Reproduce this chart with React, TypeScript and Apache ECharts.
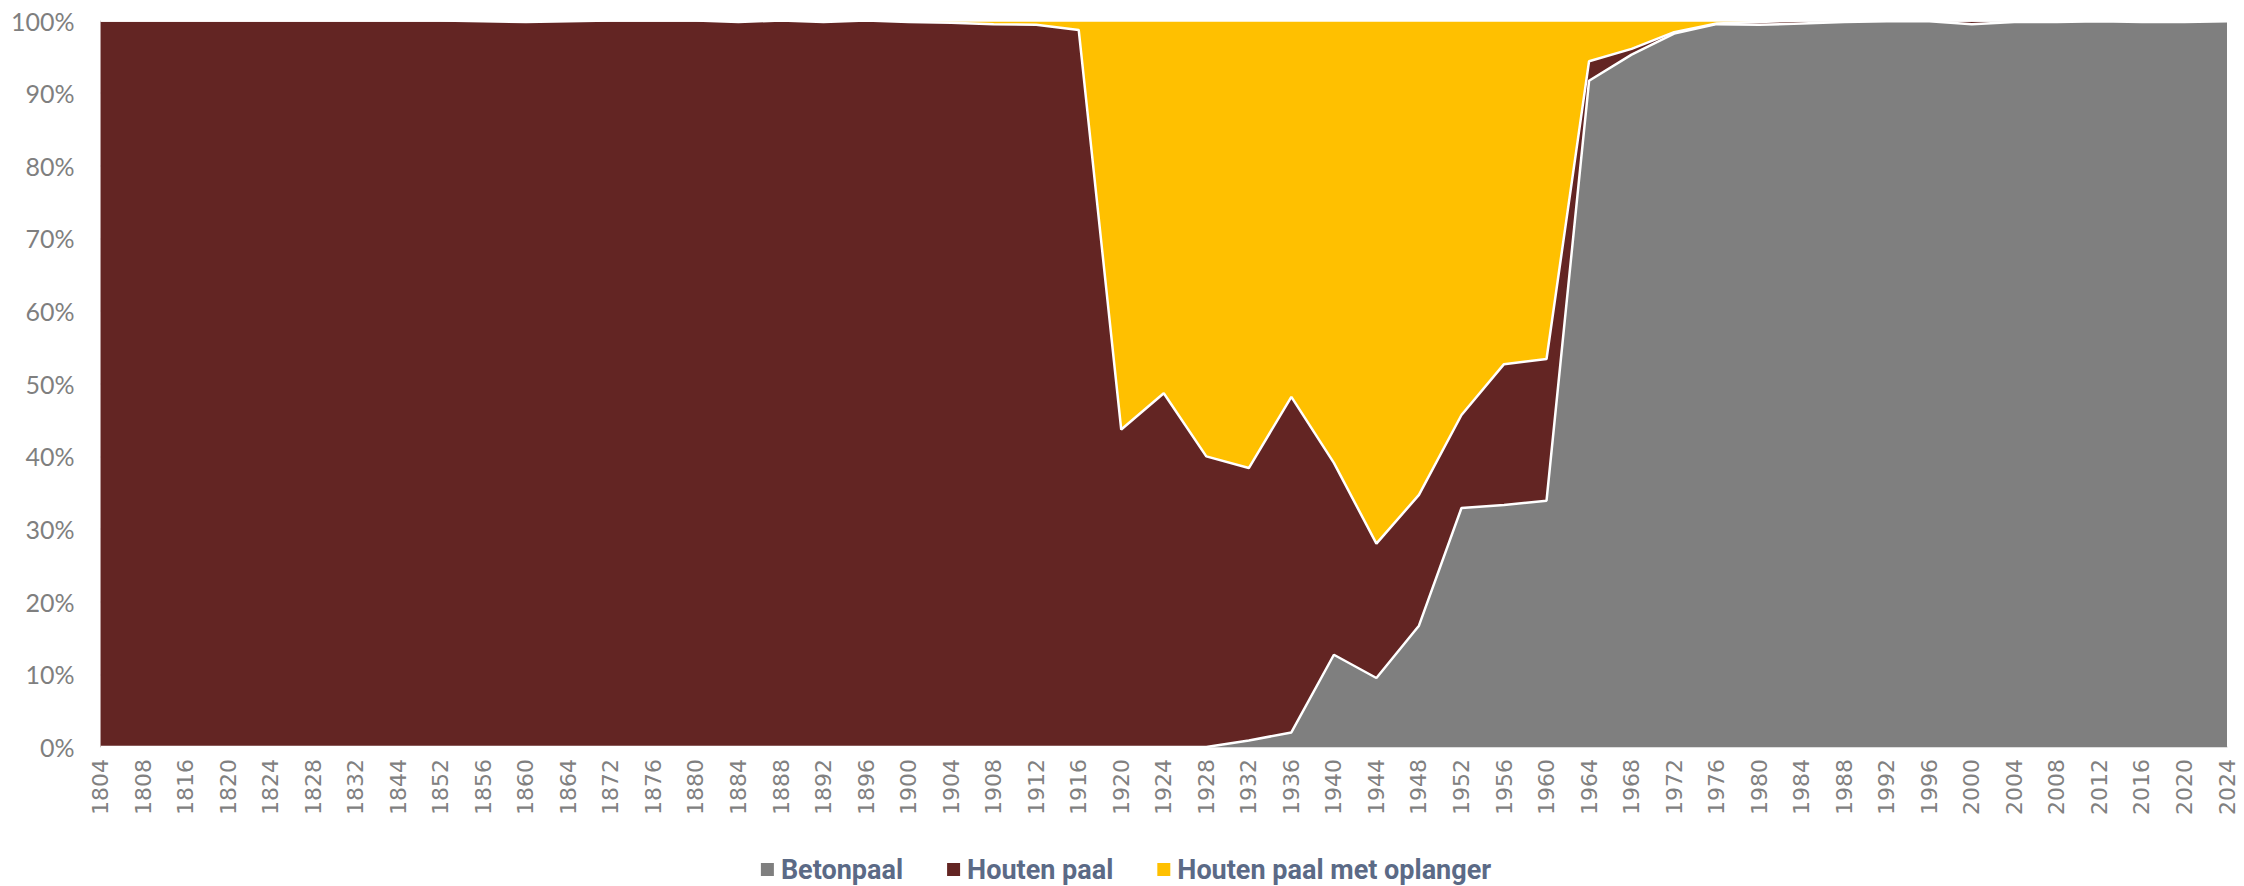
import React, { useEffect, useRef } from "react";
import * as echarts from "echarts";

const years = [
  "1804", "1808", "1816", "1820", "1824", "1828", "1832", "1844", "1852", "1856",
  "1860", "1864", "1872", "1876", "1880", "1884", "1888", "1892", "1896", "1900",
  "1904", "1908", "1912", "1916", "1920", "1924", "1928", "1932", "1936", "1940",
  "1944", "1948", "1952", "1956", "1960", "1964", "1968", "1972", "1976", "1980",
  "1984", "1988", "1992", "1996", "2000", "2004", "2008", "2012", "2016", "2020",
  "2024",
];

const betonpaal = [
  0, 0, 0, 0, 0, 0, 0, 0, 0, 0,
  0, 0, 0, 0, 0, 0, 0, 0, 0, 0,
  0, 0, 0, 0, 0, 0, 0, 0.9, 2.0, 12.7,
  9.5, 16.7, 32.9, 33.3, 33.9, 91.7, 95.3, 98.2, 99.5, 99.4,
  99.6, 99.8, 99.9, 99.9, 99.5, 99.8, 99.8, 99.9, 99.8, 99.8,
  99.9,
];

const houtenPaal = [
  100, 100, 100, 100, 100, 100, 100, 100, 100, 99.9,
  99.8, 99.9, 100, 100, 100, 99.8, 100, 99.8, 100, 99.8,
  99.7, 99.5, 99.4, 98.7, 43.7, 48.7, 40.0, 37.5, 46.2, 26.4,
  18.5, 18.0, 12.8, 19.4, 19.5, 2.7, 0.8, 0.2, 0.1, 0.4,
  0.4, 0.2, 0.1, 0.1, 0.5, 0.2, 0.2, 0.1, 0.2, 0.2,
  0.1,
];

const houtenPaalMetOplanger = [
  0, 0, 0, 0, 0, 0, 0, 0, 0, 0.1,
  0.2, 0.1, 0, 0, 0, 0.2, 0, 0.2, 0, 0.2,
  0.3, 0.5, 0.6, 1.3, 56.3, 51.3, 60.0, 61.6, 51.8, 60.9,
  72.0, 65.3, 54.3, 47.3, 46.6, 5.6, 3.9, 1.6, 0.4, 0.2,
  0, 0, 0, 0, 0, 0, 0, 0, 0, 0,
  0,
];

const seriesNames = ["Betonpaal", "Houten paal", "Houten paal met oplanger"];
const seriesColors = ["#7F7F7F", "#632523", "#FFC000"];

export default function App() {
  const ref = useRef<HTMLDivElement>(null);

  useEffect(() => {
    if (!ref.current) return;
    const chart = echarts.init(ref.current, undefined, { renderer: "svg" });
    const datasets = [betonpaal, houtenPaal, houtenPaalMetOplanger];
    chart.setOption({
      animation: false,
      backgroundColor: "#ffffff",
      grid: { left: 85, right: 17, top: 11, bottom: 139, containLabel: false },
      legend: {
        top: 843,
        left: "center",
        icon: "rect",
        itemWidth: 13,
        itemHeight: 13,
        itemGap: 44,
        textStyle: {
          fontFamily: "Roboto",
          fontWeight: "bold",
          fontSize: 27,
          color: "#5B6A86",
          padding: [0, 0, 0, 2],
        },
        data: seriesNames,
      },
      xAxis: {
        type: "category",
        data: years,
        boundaryGap: false,
        axisLine: { show: true, lineStyle: { color: "#D9D9D9", width: 1.5 } },
        axisTick: { show: false },
        axisLabel: {
          interval: 0,
          rotate: 90,
          margin: 12,
          fontFamily: "DejaVu Sans",
          fontSize: 22,
          color: "#808080",
        },
        splitLine: { show: false },
      },
      yAxis: {
        type: "value",
        min: 0,
        max: 100,
        interval: 10,
        axisLine: { show: false },
        axisTick: { show: false },
        axisLabel: {
          formatter: "{value}%",
          margin: 26,
          fontFamily: "Lato",
          fontSize: 25,
          lineHeight: 22,
          color: "#7F7F7F",
        },
        splitLine: { show: true, lineStyle: { color: "#E3E3E3", width: 1.5 } },
      },
      series: seriesNames.map((name, i) => ({
        name,
        type: "line",
        stack: "total",
        data: datasets[i],
        symbol: "none",
        showSymbol: false,
        itemStyle: { color: seriesColors[i] },
        lineStyle: { color: "#ffffff", width: 2.5 },
        areaStyle: { color: seriesColors[i], opacity: 1 },
        emphasis: { disabled: true },
      })),
    });
    return () => chart.dispose();
  }, []);

  return <div ref={ref} style={{ width: 2236, height: 878 }} />;
}
